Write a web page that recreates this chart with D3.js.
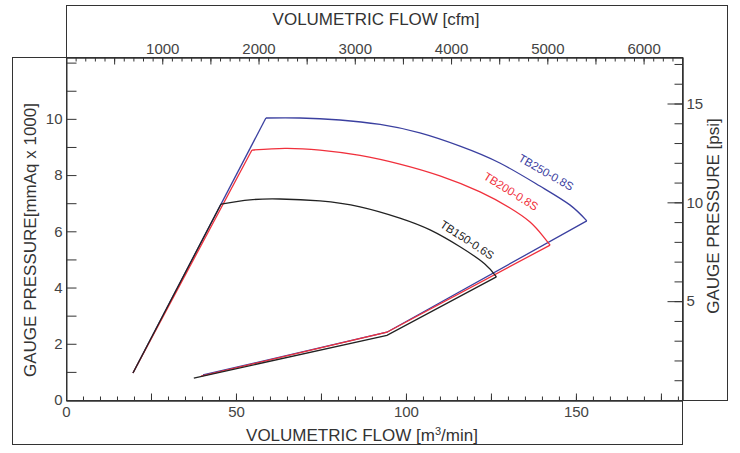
<!DOCTYPE html>
<html><head><meta charset="utf-8">
<script src="https://cdn.jsdelivr.net/npm/d3@7"></script>
<style>
html,body{margin:0;padding:0;background:#fff;}
svg{display:block;font-family:"Liberation Sans",Arial,sans-serif;}
</style></head>
<body><svg id="c" width="740" height="453"></svg>
<script>
// ---- data (flow m3/min, pressure mmAq x 1000) ----
const seriesNames = ["TB250-0.8S","TB200-0.8S","TB150-0.6S"];
const seriesColors = ["#3b40a0","#f0303c","#222222"];
// surge (left) line segments
const surge250 = [[19.7,0.96],[58.8,10.03]];
const surge200 = [[19.7,0.96],[54.7,8.89]];
const surge150 = [[19.7,0.96],[45.6,6.97]];
// constant speed arcs
const arc250 = [[58.8,10.03],[68.8,10.03],[80.6,9.96],[92.4,9.80],[104.1,9.50],[115.9,9.03],[127.6,8.43],[139.4,7.61],[148.2,6.94],[153.2,6.37]];
const arc200 = [[54.7,8.89],[64.4,8.95],[74.7,8.89],[86.5,8.70],[98.2,8.39],[110.0,7.97],[121.8,7.40],[130.6,6.83],[136.5,6.33],[140.3,5.83],[142.4,5.51]];
const arc150 = [[45.6,6.97],[54.1,7.12],[62.9,7.15],[74.7,7.08],[86.5,6.87],[98.2,6.47],[107.1,6.05],[115.9,5.45],[123.2,4.84],[126.6,4.38]];
// lower (max flow) lines
const low250 = [[153.2,6.37],[94.4,2.41],[40.3,0.89]];
const low200 = [[142.4,5.51],[94.4,2.41],[39.7,0.85]];
const low150 = [[126.6,4.38],[94.4,2.30],[37.6,0.78]];
// label anchors (flow, pressure) and angles
const labelAnchors = [[141.2,8.10],[130.9,7.42],[118.0,5.70]];
const labelAngles = [30,32,33];
// ticks
const xTicksMinor = d3.range(0,181,5);
const xTicksMajor = d3.range(0,181,25);
const xTickLabels = [0,50,100,150];
const yTicks = d3.range(0,13,1);
const yTickLabels = [0,2,4,6,8,10];
const cfmTicksMinor = d3.range(100,6301,100);
const cfmTicksMajor = d3.range(500,6301,500);
const cfmTickLabels = [1000,2000,3000,4000,5000,6000];
const psiTicks = d3.range(1,18,1);
const psiTickLabels = [5,10,15];

const CFM_PER_M3MIN = 35.3147;
const MMAQ_K_PER_PSI = 0.70307;

const svg = d3.select("#c");
const L=66, R=682, T=57, B=400;
const x = d3.scaleLinear([0,181.2],[L,R]);
const y = d3.scaleLinear([0,12.2],[B,T]);
const xc = d3.scaleLinear([0,181.2*CFM_PER_M3MIN],[L,R]);
const yp = d3.scaleLinear([0,12.2/MMAQ_K_PER_PSI],[B,T]);

const frame = "#333";
// frames
svg.append("rect").attr("x",12.5).attr("y",T+0.5).attr("width",R-12).attr("height",444-T)
  .attr("fill","none").attr("stroke",frame).attr("stroke-width",1);
svg.append("rect").attr("x",L+0.5).attr("y",5.5).attr("width",727-L).attr("height",B-5)
  .attr("fill","none").attr("stroke",frame).attr("stroke-width",1);

function styleAxis(g){
  g.selectAll("path.domain").attr("stroke",frame);
  g.selectAll(".tick line").attr("stroke",frame);
  g.selectAll(".tick text").attr("fill","#444").attr("font-size",15).attr("font-family","Liberation Sans, Arial, sans-serif");
}
// bottom
svg.append("g").attr("transform",`translate(0,${B+0.5})`)
  .call(d3.axisBottom(x).tickValues(xTicksMinor).tickSizeInner(-4).tickSizeOuter(0).tickFormat(""))
  .call(styleAxis);
svg.append("g").attr("transform",`translate(0,${B+0.5})`)
  .call(d3.axisBottom(x).tickValues(xTicksMajor).tickSizeInner(-7).tickSizeOuter(0).tickPadding(6)
     .tickFormat(d=>xTickLabels.includes(d)?d:""))
  .call(styleAxis);
// left
svg.append("g").attr("transform",`translate(${L+0.5},0)`)
  .call(d3.axisLeft(y).tickValues(yTicks).tickSizeInner(-10).tickSizeOuter(0).tickPadding(4)
     .tickFormat(d=>yTickLabels.includes(d)?d:""))
  .call(styleAxis);
// top
svg.append("g").attr("transform",`translate(0,${T+0.5})`)
  .call(d3.axisTop(xc).tickValues(cfmTicksMinor).tickSizeInner(-4).tickSizeOuter(0).tickFormat(""))
  .call(styleAxis);
svg.append("g").attr("transform",`translate(0,${T+0.5})`)
  .call(d3.axisTop(xc).tickValues(cfmTicksMajor).tickSizeInner(-7).tickSizeOuter(0).tickPadding(4)
     .tickFormat(d=>cfmTickLabels.includes(d)?d:""))
  .call(styleAxis);
// right
svg.append("g").attr("transform",`translate(${R+0.5},0)`)
  .call(d3.axisRight(yp).tickValues(psiTicks).tickSizeInner(-8).tickSizeOuter(0).tickPadding(4)
     .tickFormat(""))
  .call(styleAxis);
svg.append("g").attr("transform",`translate(${R+0.5},0)`)
  .call(d3.axisRight(yp).tickValues(psiTickLabels).tickSizeInner(-15).tickSizeOuter(0).tickPadding(4)
     .tickFormat(d=>d))
  .call(styleAxis);
// extend right axis line down to bottom frame
svg.append("line").attr("x1",R+0.5).attr("x2",R+0.5).attr("y1",B).attr("y2",444.5).attr("stroke",frame);

// titles
const tf = "Liberation Sans, Arial, sans-serif";
svg.append("text").attr("x",(L+R)/2+2).attr("y",25).attr("text-anchor","middle")
  .attr("font-size",17).attr("fill","#333").attr("font-family",tf).text("VOLUMETRIC FLOW [cfm]");
const bt = svg.append("text").attr("x",(L+R)/2-12).attr("y",441).attr("text-anchor","middle")
  .attr("font-size",17).attr("fill","#333").attr("font-family",tf);
bt.append("tspan").text("VOLUMETRIC FLOW [m");
bt.append("tspan").attr("font-size",11).attr("dy",-6).text("3");
bt.append("tspan").attr("dy",6).text("/min]");
svg.append("text").attr("transform","translate(36,240) rotate(-90)").attr("text-anchor","middle")
  .attr("font-size",17).attr("fill","#333").attr("font-family",tf).text("GAUGE PRESSURE[mmAq x 1000]");
svg.append("text").attr("transform","translate(719,216) rotate(-90)").attr("text-anchor","middle")
  .attr("font-size",17).attr("fill","#333").attr("font-family",tf).text("GAUGE PRESSURE [psi]");

// curves
const lin = d3.line().x(d=>x(d[0])).y(d=>y(d[1]));
const smooth = d3.line().x(d=>x(d[0])).y(d=>y(d[1])).curve(d3.curveNatural);
const groups = [
  {s:surge250,a:arc250,l:low250},
  {s:surge200,a:arc200,l:low200},
  {s:surge150,a:arc150,l:low150}
];
groups.forEach((g,i)=>{
  const c = seriesColors[i];
  const gg = svg.append("g").attr("fill","none").attr("stroke",c).attr("stroke-width",1.3);
  gg.append("path").attr("d",lin(g.s));
  gg.append("path").attr("d",smooth(g.a));
  gg.append("path").attr("d",lin(g.l));
  svg.append("text").attr("transform",`translate(${x(labelAnchors[i][0])},${y(labelAnchors[i][1])}) rotate(${labelAngles[i]})`)
    .attr("text-anchor","middle").attr("dominant-baseline","central")
    .attr("font-size",11.5).attr("fill",c).attr("font-family",tf).text(seriesNames[i]);
});
</script></body></html>
